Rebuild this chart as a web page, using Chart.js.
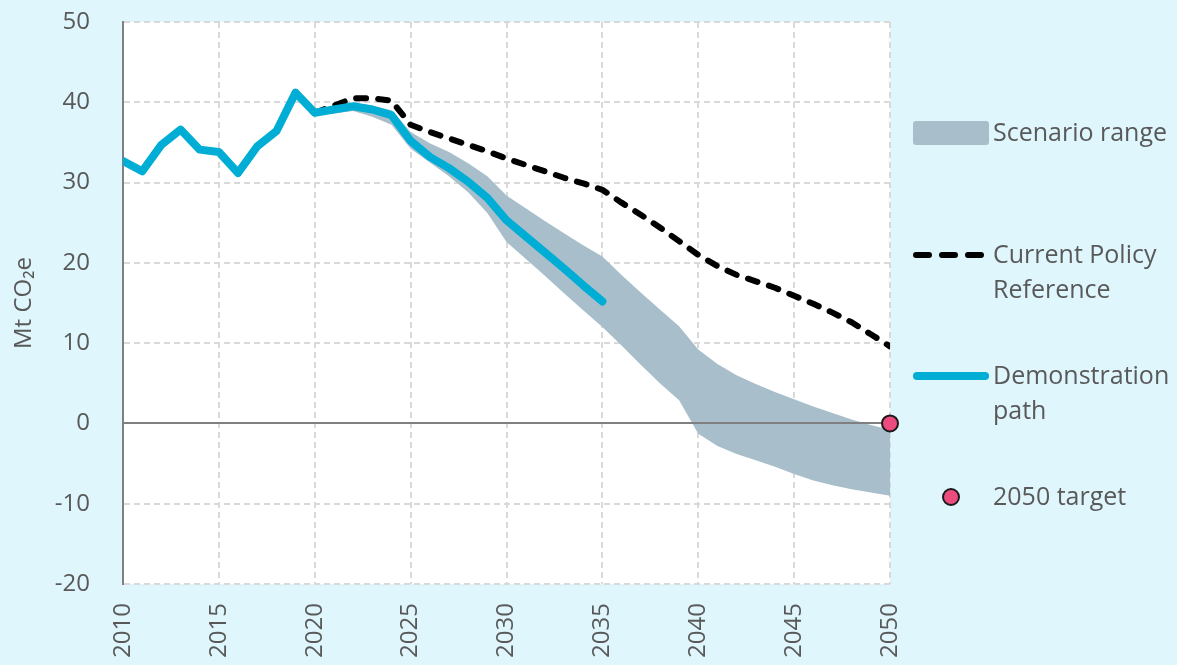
<!DOCTYPE html>
<html>
<head>
<meta charset="utf-8">
<script src="https://cdn.jsdelivr.net/npm/chart.js@4/dist/chart.umd.min.js"></script>
<style>
  html, body { margin: 0; padding: 0; }
  #wrap { position: relative; width: 1177px; height: 665px; background: #dff6fd; overflow: hidden; }
  #chart { position: absolute; left: 0; top: 0; }
  .leg { position: absolute; left: 993px; font-family: 'Open Sans', sans-serif; font-size: 25px; line-height: 35px; color: #595959; white-space: nowrap; }
  .key { position: absolute; }
</style>
</head>
<body>
<div id="wrap">
  <canvas id="chart" width="1177" height="665"></canvas>

  <div class="key" style="left:913px;top:121px;width:76px;height:24px;background:#a8bfcb;border-radius:3px;"></div>
  <div class="leg" style="top:114px;">Scenario range</div>

  <svg class="key" style="left:910px;top:249px;" width="80" height="12">
    <line x1="6" y1="6" x2="74" y2="6" stroke="#000" stroke-width="6" stroke-linecap="round" stroke-dasharray="13 13"/>
  </svg>
  <div class="leg" style="top:236px;">Current Policy<br>Reference</div>

  <svg class="key" style="left:910px;top:370px;" width="82" height="12">
    <line x1="7" y1="6" x2="75" y2="6" stroke="#00add4" stroke-width="8" stroke-linecap="round"/>
  </svg>
  <div class="leg" style="top:357px;">Demonstration<br>path</div>

  <svg class="key" style="left:940px;top:486px;" width="22" height="22">
    <circle cx="11" cy="11" r="8" fill="#eb4c7d" stroke="#1a1a1a" stroke-width="2"/>
  </svg>
  <div class="leg" style="top:478px;">2050 target</div>
</div>

<script>
// Datos (Mt CO2e)
const years = [2010, 2011, 2012, 2013, 2014, 2015, 2016, 2017, 2018, 2019,
               2020, 2021, 2022, 2023, 2024, 2025, 2026, 2027, 2028, 2029,
               2030, 2031, 2032, 2033, 2034, 2035, 2036, 2037, 2038, 2039,
               2040, 2041, 2042, 2043, 2044, 2045, 2046, 2047, 2048, 2049, 2050];

const demoPath = [32.7, 31.4, 34.7, 36.6, 34.1, 33.8, 31.2, 34.5, 36.4, 41.2,
                  38.7, 39.1, 39.5, 39.1, 38.4, 35.2, 33.2, 31.8, 30.1, 28.1,
                  25.3, 23.3, 21.3, 19.3, 17.2, 15.2, null, null, null, null,
                  null, null, null, null, null, null, null, null, null, null, null];

const policyRef = [null, null, null, null, null, null, null, null, null, null,
                   38.7, 39.6, 40.5, 40.5, 40.2, 37.2, 36.3, 35.5, 34.7, 33.9,
                   33.0, 32.2, 31.4, 30.6, 29.9, 29.1, 27.5, 26.0, 24.4, 22.7,
                   21.0, 19.6, 18.5, 17.7, 16.9, 15.9, 14.9, 13.8, 12.6, 11.1, 9.6];

const rangeLow = [null, null, null, null, null, null, null, null, null, null,
                  38.4, 38.6, 38.9, 38.2, 37.2, 34.2, 32.5, 30.8, 28.8, 26.2,
                  22.6, 20.5, 18.4, 16.2, 14.1, 12.0, 9.7, 7.3, 5.0, 2.9,
                  -1.3, -2.8, -3.8, -4.6, -5.4, -6.3, -7.1, -7.7, -8.2, -8.6, -9.0];

const rangeHigh = [null, null, null, null, null, null, null, null, null, null,
                   38.8, 39.3, 39.9, 39.6, 39.0, 36.3, 34.9, 33.8, 32.4, 30.8,
                   28.4, 26.8, 25.2, 23.7, 22.2, 20.8, 18.5, 16.3, 14.2, 12.1,
                   9.2, 7.4, 6.0, 4.9, 3.9, 3.0, 2.1, 1.3, 0.5, -0.2, -0.8];

const targetYears = [2050];
const targetValues = [0];

const yTicks = [-20, -10, 0, 10, 20, 30, 40, 50];

const textColor = '#595959';
const gridColor = '#d9d9d9';

// Convierte una serie en puntos {x, y} sin los huecos
function toPoints(xs, vals) {
    return xs.map((x, i) => ({ x: x, y: vals[i] })).filter(p => p.y !== null);
}

// Fondo blanco del área de trazado
const plotBackground = {
    id: 'plotBackground',
    beforeDraw(chart) {
        const { ctx, chartArea } = chart;
        ctx.save();
        ctx.fillStyle = '#ffffff';
        ctx.fillRect(chartArea.left, chartArea.top, chartArea.right - chartArea.left, chartArea.bottom - chartArea.top);
        ctx.restore();
    }
};

// Línea del cero, encima de la banda de escenarios
const zeroLine = {
    id: 'zeroLine',
    afterDatasetDraw(chart, args) {
        if (args.index !== 3) return;
        const { ctx, chartArea, scales } = chart;
        const y = Math.round(scales.y.getPixelForValue(0));
        ctx.save();
        ctx.strokeStyle = '#808080';
        ctx.lineWidth = 2;
        ctx.beginPath();
        ctx.moveTo(chartArea.left, y);
        ctx.lineTo(chartArea.right, y);
        ctx.stroke();
        ctx.restore();
    }
};

Chart.defaults.font.family = "'Open Sans', sans-serif";
Chart.defaults.font.size = 24;
Chart.defaults.color = textColor;

new Chart(document.getElementById('chart'), {
    type: 'line',
    data: {
        datasets: [
            {
                label: '2050 target',
                data: toPoints(targetYears, targetValues),
                showLine: false,
                pointRadius: 8,
                pointBackgroundColor: '#eb4c7d',
                pointBorderColor: '#1a1a1a',
                pointBorderWidth: 2,
                clip: false
            },
            {
                label: 'Demonstration path',
                data: toPoints(years, demoPath),
                borderColor: '#00add4',
                borderWidth: 8,
                borderCapStyle: 'round',
                borderJoinStyle: 'round',
                pointRadius: 0,
                fill: false
            },
            {
                label: 'Current Policy Reference',
                data: toPoints(years, policyRef),
                borderColor: '#000000',
                borderWidth: 6,
                borderDash: [10, 12],
                borderCapStyle: 'round',
                borderJoinStyle: 'round',
                pointRadius: 0,
                fill: false
            },
            {
                label: 'Scenario range',
                data: toPoints(years, rangeHigh),
                borderWidth: 0,
                borderColor: 'rgba(0,0,0,0)',
                backgroundColor: '#a8bfcb',
                pointRadius: 0,
                fill: '+1'
            },
            {
                label: 'Scenario range low',
                data: toPoints(years, rangeLow),
                borderWidth: 0,
                borderColor: 'rgba(0,0,0,0)',
                pointRadius: 0,
                fill: false
            }
        ]
    },
    options: {
        responsive: false,
        animation: false,
        devicePixelRatio: 1,
        layout: { padding: { top: 22, right: 287, bottom: 0, left: 0 } },
        plugins: {
            legend: { display: false },
            tooltip: { enabled: false }
        },
        scales: {
            x: {
                type: 'linear',
                min: 2010,
                max: 2050,
                afterFit: (scale) => { scale.height = 81; },
                ticks: {
                    stepSize: 5,
                    minRotation: 90,
                    maxRotation: 90,
                    padding: 19,
                    color: textColor,
                    callback: (v) => String(v)
                },
                grid: { color: gridColor, lineWidth: 2, drawTicks: false },
                border: { display: false, dash: [6, 4] }
            },
            y: {
                min: -20,
                max: 50,
                afterFit: (scale) => { scale.width = 123; },
                afterBuildTicks: (scale) => { scale.ticks = yTicks.map(v => ({ value: v })); },
                // la separación va en tickLength (transparente) para no inflar el margen superior
                ticks: { padding: 0, color: textColor },
                title: {
                    display: true,
                    text: 'Mt CO₂e',
                    color: textColor,
                    font: { size: 24 },
                    padding: { top: 10, bottom: 0 }
                },
                grid: {
                    color: (ctx) => (ctx.tick && ctx.tick.value === 0) ? 'rgba(0,0,0,0)' : gridColor,
                    lineWidth: 2,
                    drawTicks: true,
                    tickLength: 33,
                    tickColor: 'rgba(0,0,0,0)'
                },
                border: { display: true, color: '#808080', width: 2, dash: [6, 4] }
            }
        }
    },
    plugins: [plotBackground, zeroLine]
});
</script>
</body>
</html>
